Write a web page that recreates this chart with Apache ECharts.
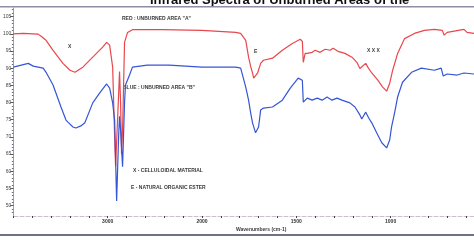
<!DOCTYPE html>
<html><head><meta charset="utf-8">
<script src="https://cdn.jsdelivr.net/npm/echarts@6/dist/echarts.min.js"></script>
<style>html,body{margin:0;padding:0;background:#fff}#c{width:474px;height:240px}</style>
</head><body><div id="c"></div>
<script>
// Wavenumbers (cm-1) and % transmittance
const redWn  = [4000,3895,3789,3737,3716,3705,3684,3653,3579,3474,3400,3347,3263,3158,3053,3011,2979,2947,2926,2916,2895,2874,2863,2853,2842,2821,2789,2737,2421,2000,1821,1795,1768,1753,1742,1732,1726,1716,1705,1689,1674,1626,1574,1521,1479,1468,1463,1453,1442,1416,1400,1374,1347,1321,1305,1279,1242,1205,1179,1163,1153,1132,1121,1100,1068,1042,1021,1005,989,963,926,874,821,768,726,716,700,611,595,558];
const redT   = [100.0,100.1,100.0,99.9,99.5,99.3,99.6,98.1,95.2,91.4,89.4,88.8,90.3,93.2,96.1,97.5,96.7,90.3,70,61.5,75,89,80,65,72,97.5,100.4,101.2,101.2,101.0,100.4,100.1,98.1,93.2,90.5,88.6,87.1,87.6,88.6,91.4,92.3,92.9,95.2,97.2,98.4,97.8,91.7,94.3,94.3,94.6,95.2,94.6,95.5,95.2,95.8,94.9,94.3,93.2,91.7,89.9,89.4,91.4,90.3,88.6,86.5,84.5,83.3,85.6,89.4,94.3,98.6,100.1,101.0,101.3,101.0,99.6,100.4,101.3,100.4,100.1];
const blueWn = [4000,3842,3789,3684,3653,3579,3495,3442,3421,3368,3337,3284,3242,3158,3084,3011,2979,2947,2926,2905,2884,2874,2863,2842,2821,2811,2768,2737,2579,2347,2000,1821,1795,1768,1753,1742,1732,1716,1700,1689,1674,1626,1574,1532,1490,1468,1463,1442,1416,1389,1363,1337,1311,1284,1258,1216,1189,1163,1153,1132,1116,1100,1074,1047,1021,1005,995,979,963,937,889,837,768,732,721,700,647,611,558];
const blueT  = [90.3,91.4,90.6,90.0,88.8,85.1,78.7,74.9,74.3,72.9,72.6,73.2,74.1,79.9,82.8,85.4,84.2,79.9,74.9,51.4,70,76,72,61.3,80.0,85.1,88.0,90.3,90.9,90.9,90.3,90.3,90.0,84.5,80.7,77.0,74.1,71.2,72.9,77.8,78.4,78.7,80.7,84.2,87.1,86.5,80.1,81.3,80.7,81.3,80.7,81.6,80.7,81.3,80.7,79.9,78.7,76.4,75.2,77.2,75.5,74.1,71.2,68.3,66.8,69.1,72.9,77.0,81.6,85.9,88.8,90.0,89.4,90.0,87.7,88.3,88.0,88.6,88.3];
const xTickLabels = [3000,2000,1500,1000];
const yTickLabels = [50,55,60,65,70,75,80,85,90,95,100,105];

// instrument x scale: half-scale above 2000 cm-1
const toU = w => w > 2000 ? 2000 + (w - 2000) / 2 : w;
const fromU = u => u > 2000 ? 2000 + (u - 2000) * 2 : u;
const pair = (wn, t) => wn.map((w, i) => [toU(w), t[i]]);

const yMinor = [];
for (let v = 48; v <= 107; v++) yMinor.push(v);
const xTicks = [];
for (let u = 600; u <= 3000; u += 100) xTicks.push(u);

const chart = echarts.init(document.getElementById('c'), null, {renderer: 'canvas'});
const lab = {fontFamily: 'Liberation Sans', fontSize: 5, fontWeight: 'bold', fill: '#3a3a3a'};
chart.setOption({
  animation: false,
  backgroundColor: '#ffffff',
  grid: {left: 10, right: 0, top: 8, bottom: 24, containLabel: false},
  xAxis: {
    type: 'value', inverse: true, min: 558, max: 3000,
    axisLine: {show: true, lineStyle: {color: '#cbbfcb', width: 1, type: 'dashed'}},
    axisTick: {show: true, customValues: xTicks, length: 2, inside: false, lineStyle: {color: '#444', width: 1}},
    axisLabel: {customValues: xTickLabels.map(toU), formatter: v => String(Math.round(fromU(v))),
      fontSize: 5, fontWeight: 'bold', color: '#333', margin: 3, fontFamily: 'Liberation Sans'},
    splitLine: {show: false}
  },
  yAxis: [{
    type: 'value', min: 47, max: 107.5,
    axisLine: {show: true, lineStyle: {color: '#9aa0b8', width: 1}},
    axisTick: {show: true, customValues: yMinor, length: 1.5, lineStyle: {color: '#6b7088'}},
    axisLabel: {show: false},
    splitLine: {show: false}
  }, {
    type: 'value', min: 47, max: 107.5, position: 'left',
    axisLine: {show: false},
    axisTick: {show: true, customValues: yTickLabels, length: 3, lineStyle: {color: '#555'}},
    axisLabel: {customValues: yTickLabels, fontSize: 5, color: '#444', margin: 2, fontFamily: 'Liberation Sans'},
    splitLine: {show: false}
  }],
  series: [
    {type: 'line', data: pair(redWn, redT), showSymbol: false, symbol: 'none',
     lineStyle: {color: '#e8474c', width: 1.2}, z: 3},
    {type: 'line', data: pair(blueWn, blueT), showSymbol: false, symbol: 'none',
     lineStyle: {color: '#3455d6', width: 1.2}, z: 4}
  ],
  graphic: [
    {type: 'text', x: 150, y: -6, z: 1, style: {text: 'Infrared Spectra of Unburned Areas of the', fontFamily: 'Liberation Sans', fontSize: 13, fontWeight: 'bold', fill: '#111'}},
    {type: 'rect', z: 2, shape: {x: 0, y: 6, width: 474, height: 1.5}, style: {fill: '#8e8ea6'}, silent: true},
    {type: 'rect', shape: {x: 0, y: 234, width: 474, height: 2}, style: {fill: '#6c7484'}, silent: true},
    {type: 'text', x: 122, y: 16, style: Object.assign({text: 'RED : UNBURNED AREA "A"'}, lab)},
    {type: 'text', x: 123, y: 85, style: Object.assign({text: 'BLUE : UNBURNED AREA "B"'}, lab)},
    {type: 'text', x: 68, y: 44, style: Object.assign({text: 'X'}, lab)},
    {type: 'text', x: 254, y: 49, style: Object.assign({text: 'E'}, lab)},
    {type: 'text', x: 367, y: 48, style: Object.assign({text: 'X X X'}, lab)},
    {type: 'text', x: 133, y: 168, style: Object.assign({text: 'X - CELLULOIDAL MATERIAL'}, lab)},
    {type: 'text', x: 131, y: 185, style: Object.assign({text: 'E - NATURAL ORGANIC ESTER'}, lab)},
    {type: 'text', x: 236, y: 227, style: Object.assign({text: 'Wavenumbers (cm-1)'}, lab)}
  ]
});
</script></body></html>
